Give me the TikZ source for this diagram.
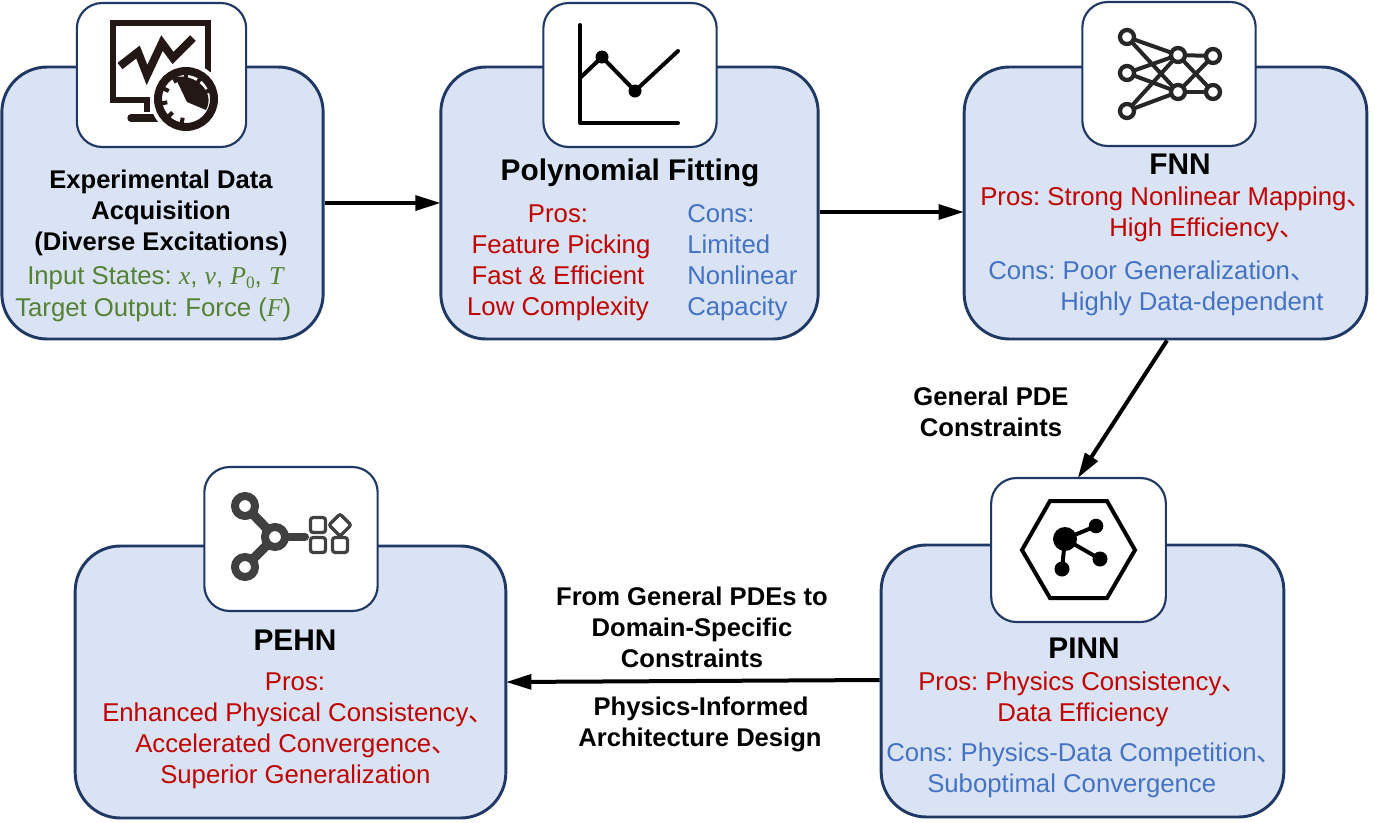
\documentclass[tikz,border=0pt]{standalone}
\usepackage{fontspec}
\setmainfont{Liberation Sans}
\newfontfamily\cjkf{Noto Sans CJK SC}
\newfontfamily\mathf{Liberation Serif}
\usetikzlibrary{arrows.meta,calc}
\newcommand{\dun}{{\cjkf 、}}
\newcommand{\mi}[1]{{\mathf\itshape #1}}
\definecolor{cardfill}{HTML}{DAE3F3}
\definecolor{cardline}{HTML}{1F3864}
\definecolor{prosc}{HTML}{C00000}
\definecolor{consc}{HTML}{4472C4}
\definecolor{inc}{HTML}{548235}
\definecolor{ink}{HTML}{231815}
\tikzset{
 card/.style={draw=cardline,fill=cardfill,line width=2.2pt,rounded corners=34pt,inner sep=0pt},
 icon/.style={draw=cardline,fill=white,line width=1.6pt,rounded corners=19pt,inner sep=0pt},
 flow/.style={line width=3pt,-{Triangle[length=19pt,width=11pt]},black,shorten >=-1pt},
 ttl/.style={font=\fontsize{19.2pt}{19.2pt}\selectfont\bfseries,inner sep=0pt,anchor=base},
 big/.style={font=\fontsize{22.4pt}{22.4pt}\selectfont\bfseries,inner sep=0pt,anchor=base},
 body/.style={font=\fontsize{19.3pt}{19.3pt}\selectfont,inner sep=0pt,anchor=base west},
 cbody/.style={font=\fontsize{19.3pt}{19.3pt}\selectfont,inner sep=0pt,anchor=base},
 pro/.style={body,text=prosc}, con/.style={body,text=consc}, inp/.style={body,text=inc},
 cpro/.style={cbody,text=prosc},
}
\frenchspacing
\begin{document}
\frenchspacing
\begin{tikzpicture}[x=0.75pt,y=-0.75pt]
\useasboundingbox (0,0) rectangle (1375,822);
% cards
\node[card,minimum width=241pt,minimum height=204pt] (c1) at (162.5,203) {};
\node[card,minimum width=283pt,minimum height=204pt] (c2) at (629.5,203) {};
\node[card,minimum width=302pt,minimum height=204pt] (c3) at (1165.5,203) {};
\node[card,minimum width=302pt,minimum height=204pt] (c4) at (1082.5,681) {};
\node[card,minimum width=323pt,minimum height=204pt] (c5) at (290.5,682) {};
% icon frames
\node[icon,minimum width=127pt,minimum height=108pt] (i1) at (161.5,75) {};
\node[icon,minimum width=130pt,minimum height=108pt] (i2) at (630,75) {};
\node[icon,minimum width=130pt,minimum height=108pt] (i3) at (1169,74) {};
\node[icon,minimum width=131pt,minimum height=108pt] (i4) at (1078.5,550) {};
\node[icon,minimum width=130pt,minimum height=108pt] (i5) at (291,539) {};
% connectors
\draw[flow] (c1.east) -- (c2.west);
\draw[flow] ($(c2.east)+(0,9)$) -- ($(c3.west)+(0,9)$);
\draw[flow] ($(c3.south)+(1.5,0)$) -- (i4.north);
\draw[flow] ($(c4.west)+(0,-1)$) -- (c5.east);
% icon 1
\draw[ink,line width=5.2pt] (152,100) -- (113,100) -- (113,23) -- (208,23) -- (208,72);
\draw[ink,line width=5.2pt] (147,100) -- (147,112);
\draw[ink,line width=5.5pt,line cap=round] (131,118) -- (160,118);
\draw[ink,line width=6pt] (120,66) -- (138,52) -- (147,75) -- (162,43) -- (173,58) -- (193,38);
\fill[white] (186,99) circle (36);
\draw[ink,line width=6pt] (186,99) circle (28);
\foreach \a in {100,135,170,205,240,270,305,340}{\draw[ink,line width=3pt] (186,99)++(\a:26) -- ++(\a:-7);}
\fill[ink] (175,77) .. controls (195,73) and (216,92) .. (206,110) -- (187,102) -- cycle;
% icon 2
\draw[line width=3pt,line cap=round,line join=round] (580,25) -- (580,123) -- (678,123);
\draw[line width=3pt,line cap=round,line join=round] (580,78) -- (602,57) -- (635,91) -- (678,51);
\fill (602,57) circle (6.5) (635,91) circle (6.5);
% icon 3
\foreach \a/\b in {37/55,37/92,73/55,73/92,111/55,111/92}{\draw[black!85,line width=3pt] (1127,\a) -- (1178,\b);}
\foreach \a/\b in {55/56,55/92,92/56,92/92}{\draw[black!85,line width=3pt] (1178,\a) -- (1213,\b);}
\foreach \p/\q in {1127/37,1127/73,1127/111,1178/55,1178/92,1213/56,1213/92}{\draw[black!85,line width=3.2pt,fill=white] (\p,\q) circle (7);}
% icon 4
\draw[line width=3pt,line join=miter] (1022,550) -- (1050,501) -- (1107,501) -- (1135,550) -- (1107,598) -- (1050,598) -- cycle;
\draw[line width=3pt] (1065,539) -- (1096,526) (1065,539) -- (1100,559) (1065,539) -- (1062,569);
\fill (1065,539) circle (12) (1096,526) circle (7.3) (1100,559) circle (7.5) (1062,569) circle (7.5);
% icon 5
\draw[black!75,line width=7pt] (245,506) -- (275,537) -- (245,567);
\draw[black!75,line width=6pt,line cap=round] (275,537) -- (305,537);
\foreach \p/\q in {245/506,245/567,275/537}{\draw[black!75,line width=6pt,fill=white] (\p,\q) circle (10);}
\draw[black!75,line width=2.4pt,rounded corners=2pt] (310.5,517.5) rectangle (325.5,532.5) (310.5,537.5) rectangle (325.5,552.5) (332.5,537.5) rectangle (347.5,552.5);
\draw[black!75,line width=2.4pt,rounded corners=1.5pt] (340,514) -- (351,525) -- (340,536) -- (329,525) -- cycle;
% card 1 text
\node[ttl] (t1a) at (161,188) {Experimental Data};
\node[ttl] (t1b) at (161,219) {Acquisition};
\node[ttl] (t1c) at (161,250) {(Diverse Excitations)};
\node[inp] (t1d) at (27,284) {Input States: \mi{x}, \mi{v}, \mi{P}\raisebox{-3pt}{\fontsize{13pt}{13pt}\selectfont\mathf 0}, \mi{T}};
\node[inp] (t1e) at (15,316) {Target Output: Force (\mi{F})};
% card 2 text
\node[big] (t2a) at (630,180) {Polynomial Fitting};
\node[cpro] (t2b) at (558,222) {Pros:};
\node[cpro] (t2c) at (561,253) {Feature Picking};
\node[cpro] (t2d) at (558,284) {Fast \& Efficient};
\node[cpro] (t2e) at (558,315) {Low Complexity};
\node[con] (t2f) at (687,222) {Cons:};
\node[con] (t2g) at (687,253) {Limited};
\node[con] (t2h) at (687,284) {Nonlinear};
\node[con] (t2i) at (687,315) {Capacity};
% card 3 text
\node[big] (t3a) at (1180,174) {FNN};
\node[pro] (t3b) at (980,205) {Pros: Strong Nonlinear Mapping\dun};
\node[pro] (t3c) at (1109,236) {High Efficiency\dun};
\node[con] (t3d) at (988,279) {Cons: Poor Generalization\dun};
\node[con] (t3e) at (1060,310) {Highly Data-dependent};
% label
\node[ttl] (l1) at (991,405) {General PDE};
\node[ttl] (l2) at (991,436) {Constraints};
% card 4 text
\node[big] (t4a) at (1084,658) {PINN};
\node[pro] (t4b) at (918,690) {Pros: Physics Consistency\dun};
\node[pro] (t4c) at (997,721) {Data Efficiency};
\node[con] (t4d) at (886,761) {Cons: Physics-Data Competition\dun};
\node[con] (t4e) at (927,792) {Suboptimal Convergence};
% card 5 text
\node[big] (t5a) at (295,650) {PEHN};
\node[cpro] (t5b) at (295,690) {Pros:};
\node[pro] (t5c) at (102,721) {Enhanced Physical Consistency\dun};
\node[pro] (t5d) at (135,752) {Accelerated Convergence\dun};
\node[pro] (t5e) at (160,783) {Superior Generalization};
% arrow labels
\node[ttl] (l3) at (692,605) {From General PDEs to};
\node[ttl] (l4) at (692,636) {Domain-Specific};
\node[ttl] (l5) at (692,667) {Constraints};
\node[ttl] (l6) at (701,715) {Physics-Informed};
\node[ttl] (l7) at (700,746) {Architecture Design};
\end{tikzpicture}
\end{document}
